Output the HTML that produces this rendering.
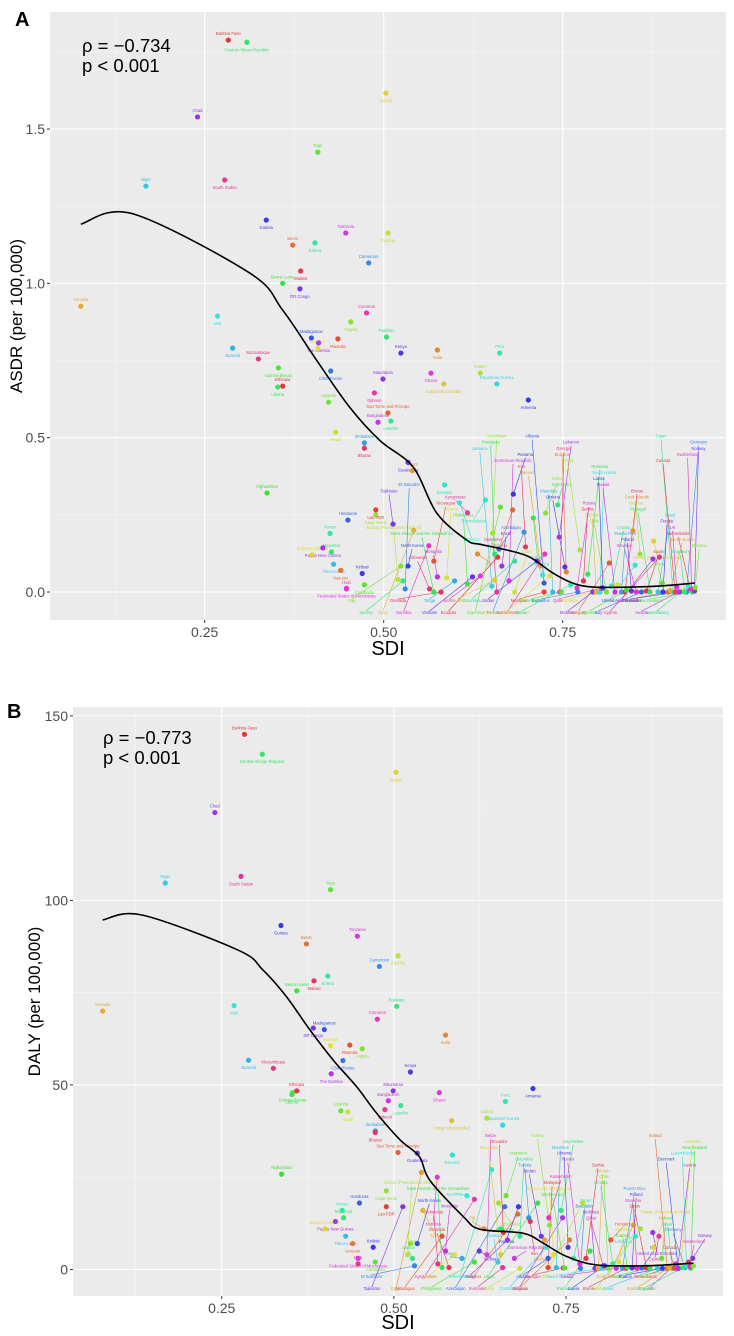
<!DOCTYPE html>
<html><head><meta charset="utf-8">
<style>
html,body{margin:0;padding:0;background:#fff;}
svg{display:block;font-family:"Liberation Sans",Arial,sans-serif;}
</style></head>
<body>
<svg id="chart" width="734" height="1336" viewBox="0 0 734 1336" xmlns="http://www.w3.org/2000/svg"></svg>
<script>
const countryNames=["Burkina Faso","Central African Republic","Chad","Nigeria","Niger","South Sudan","Togo","Guinea","Benin","Eritrea","Tanzania","Zambia","Cameroon","Malawi","Sierra Leone","DR Congo","Somalia","Mali","Comoros","Angola","Madagascar","Rwanda","Pakistan","The Gambia","Senegal","Burundi","Mozambique","Guinea-Bissau","Kenya","India","Peru","Ghana","Gabon","Côte d'Ivoire","Ethiopia","Liberia","Mauritania","Congo (Brazzaville)","Equatorial Guinea","Djibouti","Uganda","Armenia","Sao Tome and Principe","Lesotho","Bangladesh","Nepal","Zimbabwe","Bhutan","Afghanistan","Guatemala","Egypt","Eswatini","Namibia","Cape Verde","Honduras","Lao PDR","Myanmar","Papua New Guinea","Solomon Islands","Timor-Leste","Haiti","Cambodia","Kiribati","Vanuatu","Yemen","Federated States of Micronesia","Bolivia (Plurinational State of)","El Salvador","Grenada","Saint Vincent and the Grenadines","Tajikistan","Syria","Morocco","Kyrgyzstan","Iraq","North Korea","Nicaragua","Samoa","Mongolia","Guyana","Tonga","Indonesia","Philippines","Vietnam","Fiji","Turkmenistan","Belize","Uzbekistan","Azerbaijan","Ecuador","Paraguay","Brazil","Sri Lanka","Jamaica","Suriname","Argentina","Panama","Algeria","Colombia","Dominican Republic","Cuba","Tunisia","Iran","Libya","Jordan","Mexico","Costa Rica","Kazakhstan","Turkey","Albania","Malaysia","Seychelles","Lebanon","Bosnia and Herzegovina","Mauritius","Georgia","Montenegro","Ukraine","Bulgaria","Oman","Russia","China","Barbados","Serbia","Romania","Moldova","Bahrain","Saudi Arabia","Qatar","Chile","Latvia","Hungary","Croatia","Kuwait","Slovakia","Puerto Rico","Brunei","Estonia","Poland","Cook Islands","Lithuania","Slovenia","Greece","Italy","Spain","Portugal","United Arab Emirates","Taiwan (Province of China)","Israel","Cyprus","Iceland","France","Ireland","Japan","UK","Australia","Germany","Netherlands","New Zealand","Norway","South Korea","Luxembourg","Switzerland","Monaco","Denmark","Canada","Singapore","Austria"];
const sdiValues=[.283,.309,.240,.503,.168,.278,.408,.336,.373,.404,.447,.506,.479,.384,.359,.383,.077,.268,.476,.454,.399,.436,.504,.409,.408,.289,.325,.353,.524,.575,.662,.566,.635,.426,.359,.352,.499,.584,.658,.487,.423,.702,.506,.510,.492,.433,.473,.473,.337,.534,.540,.585,.563,.489,.450,.489,.427,.415,.400,.430,.448,.473,.470,.440,.425,.448,.520,.530,.580,.570,.513,.542,.606,.617,.524,.534,.570,.527,.575,.588,.599,.564,.617,.624,.631,.642,.635,.652,.661,.659,.655,.665,.655,.651,.658,.663,.681,.680,.683,.675,.683,.696,.698,.709,.714,.719,.722,.725,.726,.724,.724,.743,.745,.732,.736,.746,.748,.753,.755,.761,.770,.774,.771,.779,.785,.792,.797,.802,.804,.811,.806,.815,.818,.823,.827,.832,.837,.839,.846,.848,.851,.853,.858,.860,.867,.872,.876,.877,.883,.885,.889,.890,.897,.904,.909,.916,.923,.928,.931,.934,.900,.925,.930,.935,.913,.907,.920,.912];
const asdrValues=[1.788,1.781,1.539,1.616,1.315,1.335,1.425,1.205,1.124,1.131,1.163,1.163,1.066,1.04,1.0,.982,.926,.894,.904,.875,.823,.82,.826,.807,.79,.79,.755,.726,.774,.784,.774,.709,.709,.716,.667,.664,.69,.674,.674,.645,.615,.622,.58,.554,.55,.518,.483,.466,.321,.42,.393,.347,.15,.25,.233,.266,.13,.143,.12,.09,.01,.023,.06,.07,.19,.012,.04,.01,0,0,.22,.20,.289,.257,.084,.084,.10,.036,.049,.046,.036,.01,.026,.049,.123,.298,.052,.191,.139,.113,.123,.084,.039,.019,0,.275,.317,.266,.10,.036,0,.194,.146,.24,.10,.084,.055,.123,.256,.029,0,.282,.178,.052,0,0,0,.081,.065,.023,.013,.136,0,.036,.058,0,0,0,.013,0,.013,.094,.019,0,.023,0,0,.006,.003,.198,.087,0,.123,0,.003,0,.107,.165,0,.113,.029,0,0,0,.016,.003,0,.01,0,.003,.005,.02,.01,.015,0,0,0,0];
const dalyValues=[145,139.6,123.8,134.7,104.7,106.5,102.9,93.2,88.2,79.5,90.3,85.0,82.1,78.2,75.5,65.4,70,71.5,67.8,59.8,65.0,60.8,71.3,53.0,60.6,56.7,54.5,47.9,53.5,63.5,45.5,47.9,41.0,56.6,48.4,47.4,48.4,40.3,39.1,43.3,43.0,49.0,31.7,44.4,45.7,42.7,37.5,37.1,25.8,31.5,26.3,31.0,25.0,21.3,18,17,14,13,11,9,1.5,2,6,7,16,3,4,1,0.5,0.5,17,16,20,19,7,7,9,3,5,4,3,1.5,2,5,11,27,4,18,17,10,11,8,4,2,0.5,20,17,15,9,3,0.3,14,13,18,9,8,6,14,12,3,0.5,16,14,4,0.5,0.4,0.4,6,8,3,1.5,18,0.3,3,5,0.3,0.3,0.4,1,0.3,1,8,1.5,0.3,2,0.3,0.3,0.5,0.4,12,9,0.3,11,0.4,0.4,0.3,10,6,0.3,9,3,0.3,0.3,0.3,1.5,0.4,0.5,2,0.3,3,0.5,1,0.8,1,0.3,0.3,0.5,0.2];
const asdrCurveSdi=[.077,.15,.313,.359,.406,.452,.494,.541,.574,.616,.634,.672,.704,.736,.764,.792,.844,.89,.934];
const asdrCurveVal=[1.192,1.225,1.033,.913,.752,.60,.492,.405,.256,.168,.155,.136,.113,.062,.029,.016,.016,.02,.029];
const dalyCurveSdi=[.077,.135,.274,.31,.344,.378,.412,.446,.475,.509,.537,.552,.601,.625,.688,.717,.751,.795,.868,.935];
const dalyCurveVal=[94.7,96.0,86.5,81.1,73.9,64.9,56.7,49.5,42.3,35.1,30.6,24.2,14.3,10.9,9.8,7.1,3.5,1.2,1.0,1.7];

const NS="http://www.w3.org/2000/svg";
const svg=document.getElementById("chart");
function mk(tag,attrs,parent){const e=document.createElementNS(NS,tag);for(const k in attrs)e.setAttribute(k,attrs[k]);(parent||svg).appendChild(e);return e;}
function color(i){const h=(i*137.5)%360;return "hsl("+h.toFixed(0)+",75%,55%)";}
function smoothPath(P){
  let d="M"+P[0][0].toFixed(1)+" "+P[0][1].toFixed(1);
  for(let i=0;i<P.length-1;i++){
    const p0=P[Math.max(0,i-1)],p1=P[i],p2=P[i+1],p3=P[Math.min(P.length-1,i+2)];
    const c1x=p1[0]+(p2[0]-p0[0])/6,c1y=p1[1]+(p2[1]-p0[1])/6;
    const c2x=p2[0]-(p3[0]-p1[0])/6,c2y=p2[1]-(p3[1]-p1[1])/6;
    d+=" C"+c1x.toFixed(1)+" "+c1y.toFixed(1)+" "+c2x.toFixed(1)+" "+c2y.toFixed(1)+" "+p2[0].toFixed(1)+" "+p2[1].toFixed(1);
  }
  return d;
}

function panel(cfg){
  const g=mk("g",{});
  
  
  const L=cfg.left,R=cfg.right,T=cfg.top,B=cfg.bottom;
  const xs=v=>L+(v-0.034)/(0.978-0.034)*(R-L);
  const ys=v=>B-(v-cfg.ymin)/(cfg.ymax-cfg.ymin)*(B-T);
  const bg=mk("rect",{x:L,y:T,width:R-L,height:B-T,fill:"#ebebeb"},g);
  
  
  [0.125,0.375,0.625,0.875].forEach(v=>mk("line",{x1:xs(v),x2:xs(v),y1:T,y2:B,stroke:"#f5f5f5","stroke-width":0.6},g));
  cfg.yminor.forEach(v=>mk("line",{x1:L,x2:R,y1:ys(v),y2:ys(v),stroke:"#f5f5f5","stroke-width":0.6},g));
  [0.25,0.5,0.75].forEach((v,i)=>{
    mk("line",{x1:xs(v),x2:xs(v),y1:T,y2:B,stroke:"#fff","stroke-width":1.1},g);
    mk("line",{x1:xs(v),x2:xs(v),y1:B,y2:B+3,stroke:"#333","stroke-width":1},g);
    const t=mk("text",{x:xs(v),y:B+17,"text-anchor":"middle","font-size":14,fill:"#4d4d4d"},g);
    t.textContent=["0.25","0.50","0.75"][i];
    
    
  });
  cfg.yticks.forEach((v,i)=>{
    mk("line",{x1:L,x2:R,y1:ys(v),y2:ys(v),stroke:"#fff","stroke-width":1.1},g);
    mk("line",{x1:L-3,x2:L,y1:ys(v),y2:ys(v),stroke:"#333","stroke-width":1},g);
    const t=mk("text",{x:L-5,y:ys(v)+5,"text-anchor":"end","font-size":14,fill:"#4d4d4d"},g);
    t.textContent=cfg.ytickLabels[i];
    
    
  });
  const vals=cfg.values;
  let k=0;
  const H=B-T;
  countryNames.forEach((n,i)=>{
    const px=xs(sdiValues[i]),py=ys(vals[i]);
    const c=color(i);
    let lx=px,ly=py-5,line=false;
    const clustered=sdiValues[i]>0.5&&vals[i]<cfg.clusterMax;
    if(clustered){
      line=true;
      if(k%3===0){ly=B-6-(k%2)*12;lx=px-25-(k%5)*6;}
      else{ly=T+H*(cfg.upFrac+((k*37)%22)/100);lx=px+((k%4)-1.5)*8;}
      k++;
    } else if(i%2===1){ly=py+9;}
    if(line){const ln=mk("line",{x1:px,y1:py,x2:lx,y2:ly+(ly<py?2:-3),stroke:c,"stroke-width":0.6},g);
      
      }
    const t=mk("text",{x:lx,y:ly,"text-anchor":"middle","font-size":4.2,fill:c},g);
    t.textContent=n;
    
    
  });
  countryNames.forEach((n,i)=>{
    const p=mk("circle",{cx:xs(sdiValues[i]),cy:ys(vals[i]),r:2.6,fill:color(i)},g);
    
    
  });
  const pts=cfg.curveX.map((v,i)=>[xs(v),ys(cfg.curveY[i])]);
  const cv=mk("path",{d:smoothPath(pts),fill:"none",stroke:"#000","stroke-width":1.6,"stroke-linejoin":"round"},g);
  
  
  const xt=mk("text",{x:(L+R)/2,y:cfg.xTitleY,"text-anchor":"middle","font-size":20,fill:"#000"},g);
  xt.textContent="SDI";
  
  
  const yt=mk("text",{x:0,y:0,"text-anchor":"middle","font-size":17,fill:"#000",transform:"translate("+cfg.yTitleX+","+(T+B)/2+") rotate(-90)"},g);
  yt.textContent=cfg.yTitle;
  
  
  const s1=mk("text",{x:cfg.statX,y:cfg.statY,"font-size":18.5,fill:"#000"},g);
  s1.textContent=cfg.rho;
  
  
  const s2=mk("text",{x:cfg.statX,y:cfg.statY+20,"font-size":18.5,fill:"#000"},g);
  s2.textContent="p < 0.001";
  
  
  const pl=mk("text",{x:cfg.letterX,y:cfg.letterY,"font-size":20,"font-weight":"bold",fill:"#000"},g);
  pl.textContent=cfg.letter;
  
  
}

panel({name:"panel-a-asdr",left:50,right:726,top:12,bottom:620,ymin:-0.0907,ymax:1.879,
  yticks:[0,0.5,1,1.5],ytickLabels:["0.0","0.5","1.0","1.5"],yminor:[0.25,0.75,1.25,1.75],
  values:asdrValues,clusterMax:0.32,upFrac:0.70,curveX:asdrCurveSdi,curveY:asdrCurveVal,
  xTitleY:655,yTitle:"ASDR (per 100,000)",yTitleX:22,statX:82,statY:52,rho:"ρ = −0.734",
  letter:"A",letterX:15,letterY:26});
panel({name:"panel-b-daly",left:73,right:723,top:707,bottom:1296,ymin:-7.2,ymax:152.4,
  yticks:[0,50,100,150],ytickLabels:["0","50","100","150"],yminor:[25,75,125],
  values:dalyValues,clusterMax:28,upFrac:0.73,curveX:dalyCurveSdi,curveY:dalyCurveVal,
  xTitleY:1329,yTitle:"DALY (per 100,000)",yTitleX:40,statX:103,statY:744,rho:"ρ = −0.773",
  letter:"B",letterX:7,letterY:718});
</script>
</body></html>
